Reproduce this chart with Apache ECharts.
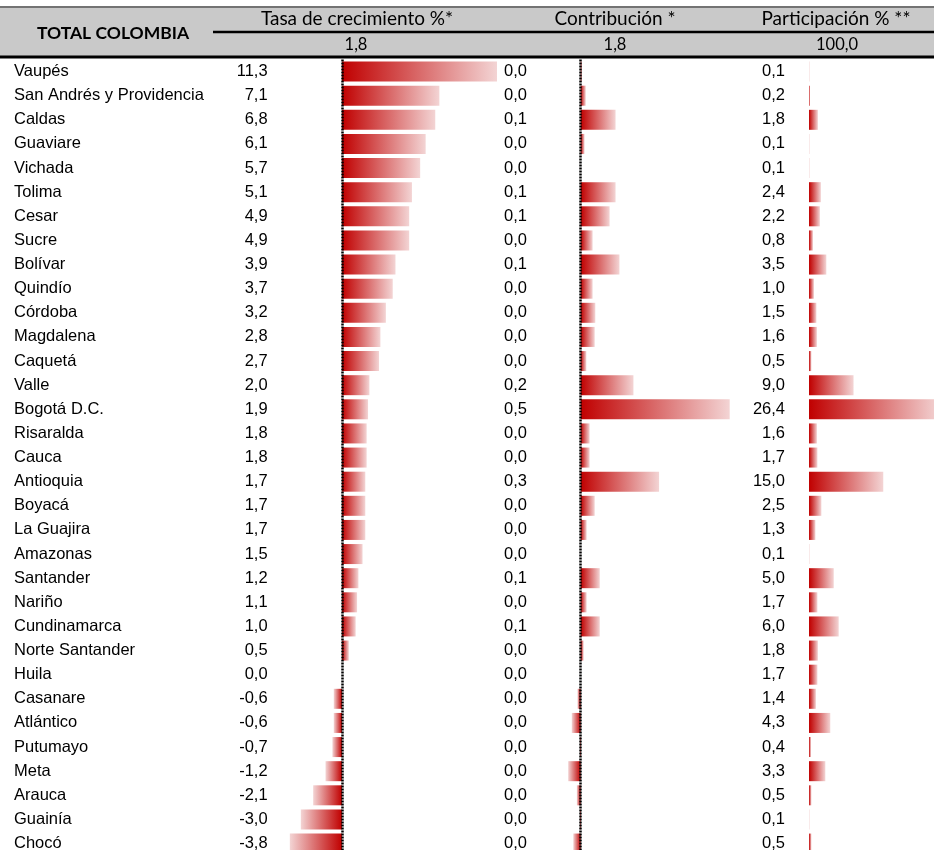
<!DOCTYPE html>
<html>
<head>
<meta charset="utf-8">
<script src="https://cdn.jsdelivr.net/npm/echarts@6/dist/echarts.min.js"></script>
<style>
html,body{margin:0;padding:0;background:#fff;}
#chart{width:934px;height:850px;}
</style>
</head>
<body>
<div id="chart"></div>
<script>
// ---- data ----
const departments = ['Vaupés','San Andrés y Providencia','Caldas','Guaviare','Vichada','Tolima','Cesar','Sucre','Bolívar','Quindío','Córdoba','Magdalena','Caquetá','Valle','Bogotá D.C.','Risaralda','Cauca','Antioquia','Boyacá','La Guajira','Amazonas','Santander','Nariño','Cundinamarca','Norte Santander','Huila','Casanare','Atlántico','Putumayo','Meta','Arauca','Guainía','Chocó'];
const growth = [11.3,7.1,6.8,6.1,5.7,5.1,4.9,4.9,3.9,3.7,3.2,2.8,2.7,2.0,1.9,1.8,1.8,1.7,1.7,1.7,1.5,1.2,1.1,1.0,0.5,0.0,-0.6,-0.6,-0.7,-1.2,-2.1,-3.0,-3.8];
// contribution as printed (rounded)
const contributionShown = [0.0,0.0,0.1,0.0,0.0,0.1,0.1,0.0,0.1,0.0,0.0,0.0,0.0,0.2,0.5,0.0,0.0,0.3,0.0,0.0,0.0,0.1,0.0,0.1,0.0,0.0,0.0,0.0,0.0,0.0,0.0,0.0,0.0];
// contribution as drawn by the bars
const contributionBars = [0.004,0.017,0.117,0.013,0.0,0.117,0.097,0.04,0.13,0.04,0.049,0.047,0.019,0.177,0.50,0.03,0.03,0.263,0.047,0.02,0.0,0.064,0.02,0.064,0.01,0.0,-0.011,-0.03,-0.003,-0.042,-0.013,-0.003,-0.025];
const share = [0.1,0.2,1.8,0.1,0.1,2.4,2.2,0.8,3.5,1.0,1.5,1.6,0.5,9.0,26.4,1.6,1.7,15.0,2.5,1.3,0.1,5.0,1.7,6.0,1.8,1.7,1.4,4.3,0.4,3.3,0.5,0.1,0.5];
const headerTitle = 'TOTAL COLOMBIA';
const columnTitles = ['Tasa de crecimiento %*','Contribución *','Participación % **'];
const totals = ['1,8','1,8','100,0'];

// ---- helpers ----
const fmt = v => v.toFixed(1).replace('.', ',');
function grad(v){
  const neg = v < 0;
  return new echarts.graphic.LinearGradient(neg ? 1 : 0, 0, neg ? 0 : 1, 0, [
    {offset: 0, color: '#c00000'},
    {offset: 1, color: '#f3d4d4'}
  ]);
}
const barData = arr => arr.map(v => ({value: v, itemStyle: {color: grad(v)}}));

const ROW_TOP = 59.5;
const ROW_H = 24.125 * departments.length;
const LABEL_FONT = {fontFamily: 'Arial, "Liberation Sans", sans-serif', fontSize: 16.5, color: '#000'};
const HEAD_FONT = '"Lato", "Open Sans", sans-serif';

const grids = [
  {left: 287.1, width: 219.5, top: ROW_TOP, height: ROW_H},
  {left: 550.9, width: 208.6, top: ROW_TOP, height: ROW_H},
  {left: 809, width: 133.65, top: ROW_TOP, height: ROW_H}
].map(g => Object.assign({containLabel: false, outerBoundsMode: 'none'}, g));

function catAxis(gridIndex, labels, margin, align){
  return {
    type: 'category', gridIndex, data: labels, inverse: true, position: 'left', offset: 0,
    axisLine: {show: false}, axisTick: {show: false}, splitLine: {show: false},
    axisLabel: Object.assign({interval: 0, margin, align}, LABEL_FONT)
  };
}
function valAxis(gridIndex, min, max){
  return {type: 'value', gridIndex, min, max, show: false, splitLine: {show: false}};
}
const zeroLine = {
  silent: true, symbol: ['none','none'], animation: false,
  label: {show: false},
  lineStyle: {color: '#000', type: [2, 1], width: 2.5},
  data: [{xAxis: 0}]
};

const option = {
  animation: false,
  backgroundColor: '#fff',
  grid: grids,
  xAxis: [valAxis(0, -4, 12), valAxis(1, -0.1, 0.6), valAxis(2, 0, 27)],
  yAxis: [
    catAxis(0, departments, 273.1, 'left'),
    catAxis(0, growth.map(fmt), 19.5, 'right'),
    catAxis(1, contributionShown.map(fmt), 23.9, 'right'),
    catAxis(2, share.map(fmt), 24, 'right')
  ],
  series: [
    {type: 'bar', xAxisIndex: 0, yAxisIndex: 0, barWidth: 20, data: barData(growth), markLine: zeroLine},
    {type: 'bar', xAxisIndex: 1, yAxisIndex: 2, barWidth: 20, data: barData(contributionBars), markLine: zeroLine},
    {type: 'bar', xAxisIndex: 2, yAxisIndex: 3, barWidth: 20, data: barData(share)}
  ],
  graphic: [
    {type: 'rect', shape: {x: 0, y: 8, width: 934, height: 49}, style: {fill: '#c9c9c9'}, z: 1},
    {type: 'line', shape: {x1: 0, y1: 7, x2: 934, y2: 7}, style: {stroke: '#444', lineWidth: 1.5}, z: 2},
    {type: 'line', shape: {x1: 213, y1: 32, x2: 934, y2: 32}, style: {stroke: '#000', lineWidth: 2.5}, z: 2},
    {type: 'line', shape: {x1: 0, y1: 57, x2: 934, y2: 57}, style: {stroke: '#000', lineWidth: 3}, z: 2},
    {type: 'text', x: 113, y: 33, z: 3, style: {text: headerTitle, fill: '#000', font: 'bold 17.5px ' + HEAD_FONT, textAlign: 'center', textVerticalAlign: 'middle'}},
    {type: 'text', x: 357, y: 19, z: 3, style: {text: columnTitles[0], fill: '#000', font: '19px ' + HEAD_FONT, textAlign: 'center', textVerticalAlign: 'middle'}},
    {type: 'text', x: 615, y: 19, z: 3, style: {text: columnTitles[1], fill: '#000', font: '19px ' + HEAD_FONT, textAlign: 'center', textVerticalAlign: 'middle'}},
    {type: 'text', x: 836, y: 19, z: 3, style: {text: columnTitles[2], fill: '#000', font: '19px ' + HEAD_FONT, textAlign: 'center', textVerticalAlign: 'middle'}},
    {type: 'text', x: 356, y: 45, z: 3, style: {text: totals[0], fill: '#000', font: '16.5px ' + HEAD_FONT, textAlign: 'center', textVerticalAlign: 'middle'}},
    {type: 'text', x: 615, y: 45, z: 3, style: {text: totals[1], fill: '#000', font: '16.5px ' + HEAD_FONT, textAlign: 'center', textVerticalAlign: 'middle'}},
    {type: 'text', x: 837, y: 45, z: 3, style: {text: totals[2], fill: '#000', font: '16.5px ' + HEAD_FONT, textAlign: 'center', textVerticalAlign: 'middle'}}
  ]
};

const chart = echarts.init(document.getElementById('chart'), null, {renderer: 'canvas'});
chart.setOption(option);
</script>
</body>
</html>
